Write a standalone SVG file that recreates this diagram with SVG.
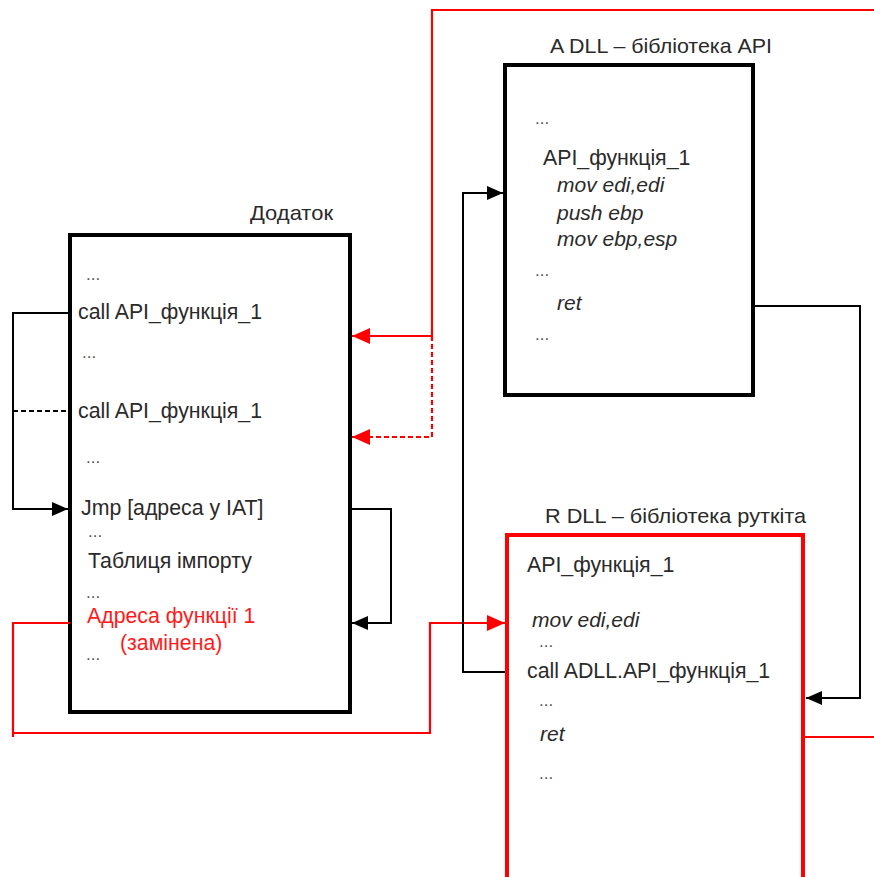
<svg xmlns="http://www.w3.org/2000/svg" width="874" height="877" viewBox="0 0 874 877">
  <style>
    text { font-family: "Liberation Sans", Arial, sans-serif; font-size: 21.3px; fill: #2a2a2a; }
    .title { font-size: 21px; }
    .it { font-style: italic; font-size: 21px; }
    .dots { font-size: 17px; fill: #555; }
    .red { fill: #ff1a1a; }
    .box { fill: #fff; stroke: #000; stroke-width: 4; }
    .rbox { fill: #fff; stroke: #ff0000; stroke-width: 4; }
    .k { fill: none; stroke: #000; stroke-width: 2; }
    .r { fill: none; stroke: #ff0000; stroke-width: 2.2; }
    .dash { stroke-dasharray: 5 3; }
  </style>
  <defs>
    <marker id="ak" viewBox="0 0 16 14" refX="16" refY="7" markerWidth="16" markerHeight="14" markerUnits="userSpaceOnUse" orient="auto">
      <path d="M0,0 L16,7 L0,14 Z" fill="#000"/>
    </marker>
    <marker id="ar" viewBox="0 0 18 16" refX="18" refY="8" markerWidth="18" markerHeight="16" markerUnits="userSpaceOnUse" orient="auto">
      <path d="M0,0 L18,8 L0,16 Z" fill="#ff0000"/>
    </marker>
  </defs>

  <!-- Application image -->
  <g id="app">
    <text class="title" x="250" y="220" textLength="83" lengthAdjust="spacingAndGlyphs">Додаток</text>
    <rect class="box" x="70" y="235" width="280" height="477"/>
    <text class="dots" x="86" y="280">...</text>
    <text x="78" y="319">call API_функція_1</text>
    <text class="dots" x="82" y="358">...</text>
    <text x="78" y="418">call API_функція_1</text>
    <text class="dots" x="86" y="463">...</text>
    <text x="81" y="515">Jmp [адреса у IAT]</text>
    <text class="dots" x="88" y="537">...</text>
    <text x="88" y="568">Таблиця імпорту</text>
    <text class="dots" x="86" y="598">...</text>
    <text class="red" x="87" y="623">Адреса функції 1</text>
    <text class="red" x="120" y="650">(замінена)</text>
    <text class="dots" x="86" y="660">...</text>
  </g>

  <!-- API library -->
  <g id="adll">
    <text class="title" x="550" y="53" textLength="222" lengthAdjust="spacingAndGlyphs">A DLL – бібліотека API</text>
    <rect class="box" x="505" y="65" width="248" height="330"/>
    <text class="dots" x="535" y="124">...</text>
    <text x="543" y="165">API_функція_1</text>
    <text class="it" x="557" y="192">mov edi,edi</text>
    <text class="it" x="557" y="220">push ebp</text>
    <text class="it" x="557" y="246">mov ebp,esp</text>
    <text class="dots" x="535" y="276">...</text>
    <text class="it" x="557" y="310">ret</text>
    <text class="dots" x="535" y="340">...</text>
  </g>

  <!-- Rootkit library -->
  <g id="rdll">
    <text class="title" x="545" y="523" textLength="261" lengthAdjust="spacingAndGlyphs">R DLL – бібліотека руткіта</text>
    <rect class="rbox" x="507" y="535" width="296" height="360"/>
    <text x="527" y="572">API_функція_1</text>
    <text class="it" x="532" y="627">mov edi,edi</text>
    <text class="dots" x="539" y="647">...</text>
    <text x="527" y="678">call ADLL.API_функція_1</text>
    <text class="dots" x="539" y="706">...</text>
    <text class="it" x="540" y="741">ret</text>
    <text class="dots" x="539" y="779">...</text>
  </g>

  <!-- Connectors -->
  <g id="connectors">
    <!-- original call path through the jump stub -->
    <path class="k" d="M70,313 H13 V509 H68" marker-end="url(#ak)"/>
    <path class="k dash" d="M13,411 H68"/>
    <path class="k" d="M350,509 H391 V623 H352" marker-end="url(#ak)"/>
    <!-- patched IAT entry redirects to rootkit -->
    <path class="r" d="M70,623 H13 V737 M13,733 H430 V623 H505" marker-end="url(#ar)"/>
    <!-- rootkit forwards to the real API -->
    <path class="k" d="M505,672 H463 V193 H503" marker-end="url(#ak)"/>
    <path class="k" d="M753,306 H860 V698 H806" marker-end="url(#ak)"/>
    <!-- return path back to the caller -->
    <path class="r" d="M803,737 H874"/>
    <path class="r" d="M874,10 H432 V336 H352" marker-end="url(#ar)"/>
    <path class="r dash" d="M432,336 V437 H352" marker-end="url(#ar)"/>
  </g>
</svg>
